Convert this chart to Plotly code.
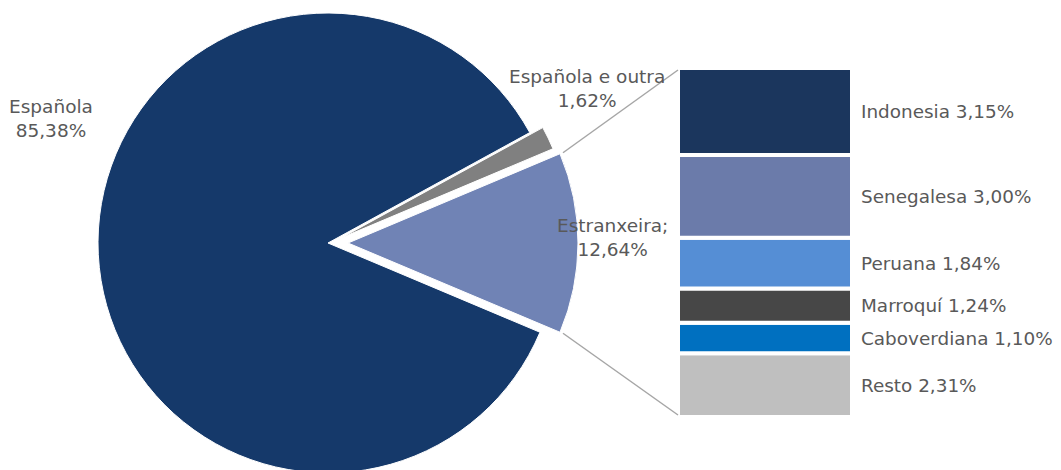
import math
import plotly.graph_objects as go

# ---- data ----
pie_labels = ["Estranxeira", "Española", "Española e outra"]
pie_values = [12.64, 85.38, 1.62]
pie_text = ["Estranxeira;<br>12,64%", "Española<br>85,38%", "Española e outra<br>1,62%"]
pie_colors = ["#7083B5", "#15396A", "#808080"]

bar_labels = ["Indonesia", "Senegalesa", "Peruana", "Marroquí", "Caboverdiana", "Resto"]
bar_values = [3.15, 3.00, 1.84, 1.24, 1.10, 2.31]
bar_text = ["Indonesia 3,15%", "Senegalesa 3,00%", "Peruana 1,84%", "Marroquí 1,24%",
            "Caboverdiana 1,10%", "Resto 2,31%"]
bar_colors = ["#1B365D", "#6B7BAA", "#558ED5", "#474747", "#0070C0", "#BFBFBF"]

W, H = 1061, 470
OFF = 8  # page body margin
TXT = "#595959"
FONT = "DejaVu Sans"

# layout geometry (page pixels)
PIE_CX, PIE_CY, PIE_R = 328, 243, 230
# explosion offset of each slice (dx, dy) in pixels
explode = [(20, 0), (0, 0), (13, -5)]


def px_x(x):
    return (x - OFF) / W


def px_y(y):
    return 1 - (y - OFF) / H


fig = go.Figure()
rotation = 90 - 360 * pie_values[0] / sum(pie_values) / 2
transparent = "rgba(0,0,0,0)"
for i, (dx, dy) in enumerate(explode):
    cx, cy = PIE_CX + dx, PIE_CY + dy
    cols = [pie_colors[j] if j == i else transparent for j in range(len(pie_values))]
    widths = [1 if j == i else 0 for j in range(len(pie_values))]
    fig.add_trace(go.Pie(
        labels=pie_labels, values=pie_values, sort=False, direction="clockwise",
        rotation=rotation, textinfo="none", hoverinfo="label+percent",
        marker=dict(colors=cols, line=dict(color="white", width=widths)),
        domain=dict(x=[px_x(cx - PIE_R), px_x(cx + PIE_R)],
                    y=[px_y(cy + PIE_R), px_y(cy - PIE_R)]),
        showlegend=False,
    ))

# stacked bar (bottom to top)
bar_dom_x = [px_x(678), px_x(852)]
bar_dom_y = [px_y(417), px_y(68)]
total = sum(bar_values)
base = 0.0
for lab, val, txt, col in reversed(list(zip(bar_labels, bar_values, bar_text, bar_colors))):
    fig.add_trace(go.Bar(
        x=[0], y=[val], base=[base], name=lab, width=1,
        marker=dict(color=col, line=dict(color="white", width=4)),
        xaxis="x2", yaxis="y2", showlegend=False, hoverinfo="name+y",
    ))
    fig.add_annotation(x=0.5, y=base + val / 2, xref="x2", yref="y2", text=txt,
                       showarrow=False, xanchor="left", yanchor="middle", xshift=7,
                       font=dict(family=FONT, size=18.4, color=TXT))
    base += val

# connector lines from the exploded slice corners to the bar corners
half = math.pi * pie_values[0] / sum(pie_values)
ecx, ecy = PIE_CX + explode[0][0], PIE_CY + explode[0][1]
for sgn, yb in [(1, px_y(70)), (-1, px_y(415))]:
    x0 = ecx + PIE_R * math.cos(half) + 3
    y0 = ecy - sgn * (PIE_R * math.sin(half) + 1)
    fig.add_shape(type="line", xref="paper", yref="paper",
                  x0=px_x(x0), y0=px_y(y0), x1=bar_dom_x[0], y1=yb,
                  line=dict(color="#A6A6A6", width=1.5))

# pie labels
lab_font = dict(family=FONT, size=18.5, color=TXT)
for txt, (lx, ly) in zip(pie_text, [(612, 237), (51, 118), (587, 89)]):
    fig.add_annotation(x=px_x(lx), y=px_y(ly), xref="paper", yref="paper", text=txt,
                       showarrow=False, xanchor="center", yanchor="middle", font=lab_font)

fig.update_layout(
    width=W, height=H, margin=dict(l=0, r=0, t=0, b=0),
    paper_bgcolor="white", plot_bgcolor="white", barmode="overlay",
    xaxis2=dict(domain=bar_dom_x, range=[-0.5, 0.5], visible=False, fixedrange=True),
    yaxis2=dict(domain=bar_dom_y, range=[0, total], visible=False, fixedrange=True, anchor="x2"),
)
fig.write_html("out.html")
